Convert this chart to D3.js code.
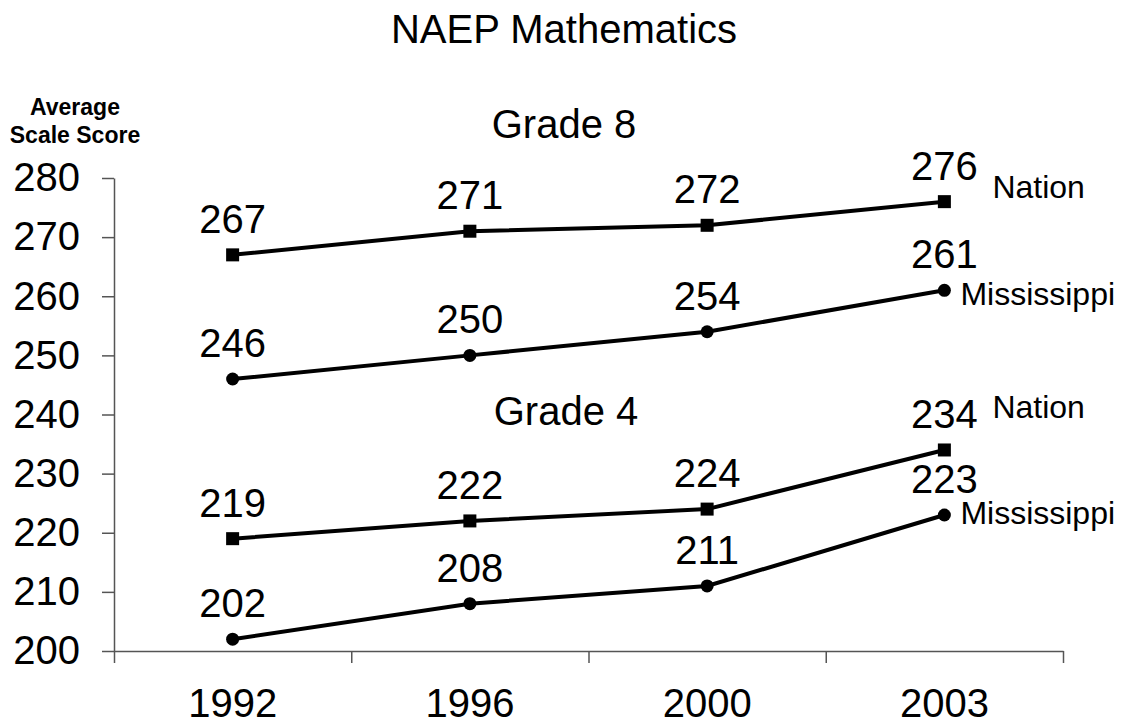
<!DOCTYPE html>
<html>
<head>
<meta charset="utf-8">
<script src="https://cdn.jsdelivr.net/npm/d3@7"></script>
<style>
  body { margin: 0; background: #fff; }
  svg { display: block; font-family: "Liberation Sans", Arial, sans-serif; }
</style>
</head>
<body>
<div class="chart"></div>
<script>
// data
const years = ['1992', '1996', '2000', '2003'];
const yTicks = [200, 210, 220, 230, 240, 250, 260, 270, 280];
const grade8Nation = [267, 271, 272, 276];
const grade8Miss = [246, 250, 254, 261];
const grade4Nation = [219, 222, 224, 234];
const grade4Miss = [202, 208, 211, 223];

const width = 1128, height = 725;
const big = '40px';
const svg = d3.select('.chart').append('svg')
    .attr('width', width).attr('height', height);

const x = d3.scaleBand().domain(years).range([114, 1063]).padding(0);
const y = d3.scaleLinear().domain([200, 280]).range([651, 178]);
// band edges for the x tick marks
const xEdge = d3.scaleLinear().domain([0, years.length]).range(x.range());

// title + headings
svg.append('text').attr('x', 564).attr('y', 43)
    .attr('text-anchor', 'middle').style('font-size', big)
    .text('NAEP Mathematics');

svg.append('text').attr('x', 564).attr('y', 138)
    .attr('text-anchor', 'middle').style('font-size', big)
    .text('Grade 8');

svg.append('text').attr('x', 566).attr('y', 425)
    .attr('text-anchor', 'middle').style('font-size', big)
    .text('Grade 4');

const ylab = svg.append('text').attr('text-anchor', 'middle')
    .style('font-size', '23px').style('font-weight', 700);
ylab.append('tspan').attr('x', 75).attr('y', 115).text('Average');
ylab.append('tspan').attr('x', 75).attr('y', 143).text('Scale Score');

// y axis
const yAxis = svg.append('g').attr('transform', 'translate(114,0)')
    .call(d3.axisLeft(y).tickValues(yTicks).tickSize(12).tickSizeOuter(0).tickPadding(22));
yAxis.selectAll('text').style('font-size', big).style('font-family', null).attr('fill', '#000');
yAxis.selectAll('line, path').attr('stroke', '#555').attr('stroke-width', 1.5);

// x axis: ticks at band edges, labels at band centres
const xAxis = svg.append('g').attr('transform', 'translate(0,651)')
    .call(d3.axisBottom(xEdge).ticks(years.length).tickSize(12).tickSizeOuter(0).tickFormat(''));
xAxis.selectAll('line, path').attr('stroke', '#555').attr('stroke-width', 1.5);

const xLab = svg.append('g').attr('transform', 'translate(0,651)')
    .call(d3.axisBottom(x).tickSize(0).tickPadding(38));
xLab.select('.domain').remove();
xLab.selectAll('text').style('font-size', big).style('font-family', null).attr('fill', '#000');

// series
const series = [
  {name: 'Nation', values: grade8Nation, marker: 'square', dx: 48, dy: -4},
  {name: 'Mississippi', values: grade8Miss, marker: 'circle', dx: 16, dy: 15},
  {name: 'Nation', values: grade4Nation, marker: 'square', dx: 48, dy: -32},
  {name: 'Mississippi', values: grade4Miss, marker: 'circle', dx: 16, dy: 9}
];

const cx = d => x(d) + x.bandwidth() / 2;
const line = d3.line().x((d, i) => cx(years[i])).y(d => y(d));

series.forEach(s => {
  const g = svg.append('g');
  g.append('path').datum(s.values)
      .attr('d', line).attr('fill', 'none')
      .attr('stroke', '#000').attr('stroke-width', 4);

  if (s.marker === 'square') {
    g.selectAll('rect').data(s.values).join('rect')
        .attr('x', (d, i) => cx(years[i]) - 6.5)
        .attr('y', d => y(d) - 6.5)
        .attr('width', 13).attr('height', 13).attr('fill', '#000');
  } else {
    g.selectAll('circle').data(s.values).join('circle')
        .attr('cx', (d, i) => cx(years[i]))
        .attr('cy', d => y(d))
        .attr('r', 6.5).attr('fill', '#000');
  }

  g.selectAll('text.val').data(s.values).join('text')
      .attr('class', 'val')
      .attr('x', (d, i) => cx(years[i]))
      .attr('y', d => y(d) - 22)
      .attr('text-anchor', 'middle').style('font-size', big)
      .text(d => d);

  const last = s.values[s.values.length - 1];
  g.append('text')
      .attr('x', cx(years[years.length - 1]) + s.dx)
      .attr('y', y(last) + s.dy)
      .style('font-size', '32px')
      .text(s.name);
});
</script>
</body>
</html>
